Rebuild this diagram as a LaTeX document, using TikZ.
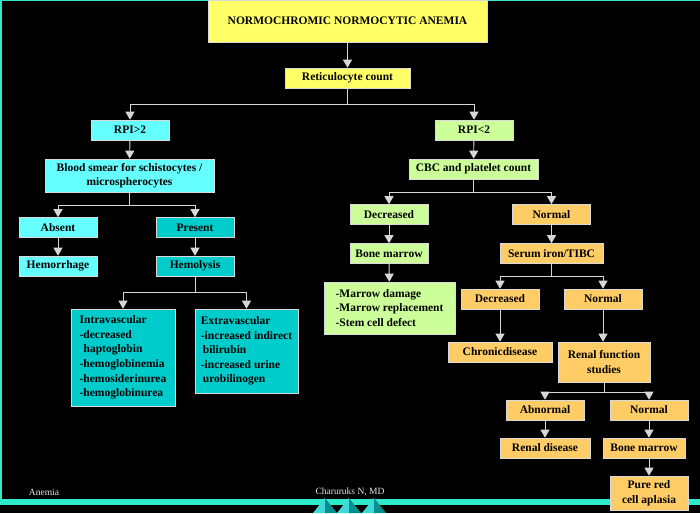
\documentclass[tikz,border=0pt]{standalone}
\usetikzlibrary{arrows.meta}
\usepackage{fontspec}
\setmainfont{Liberation Serif}

\definecolor{titleyellow}{RGB}{255,255,102}
\definecolor{lightcyan}{RGB}{102,255,255}
\definecolor{darkcyan}{RGB}{0,204,204}
\definecolor{lightgreen}{RGB}{204,255,153}
\definecolor{lightorange}{RGB}{255,204,102}
\definecolor{framemint}{RGB}{45,235,200}
\definecolor{linegray}{RGB}{215,215,215}

\begin{document}
\begin{tikzpicture}[x=1pt, y=-1pt,
        box/.style = {draw=white!85!black, line width=0.6pt, inner sep=2pt, align=center,
                      font=\fontsize{11.5}{14.6}\selectfont\bfseries},
        smallbox/.style = {box, minimum width=78pt, minimum height=20pt},
        listbox/.style = {box, align=left},
        arr/.style = {draw=linegray, line width=0.9pt, -{Triangle[width=9pt,length=8pt]}},
        conn/.style = {draw=linegray, line width=0.9pt},
        foot/.style = {text=white!90!black, font=\fontsize{9.5}{10}\selectfont}]
        \fill[black] (0,0) rectangle (700,513);
        \useasboundingbox (0,0) rectangle (700,513);
        % frame
        \fill[framemint] (0,0) rectangle (700,1.5);
        \fill[framemint] (0,0) rectangle (2,505);
        \fill[framemint] (0,499) rectangle (700,505);
        \foreach \px in {325,349,374} {
            \fill[darkcyan!75!white] (\px,498) -- (\px-12,513) -- (\px,513) -- cycle;
            \fill[darkcyan!70!black] (\px,498) -- (\px+12,513) -- (\px,513) -- cycle;
        }
        \node[foot] (footleft) at (44,492) {Anemia};
        \node[foot] (footmid) at (350,492) {Charuruks N, MD};
        % top
        \node[box, fill=titleyellow, minimum width=279pt, minimum height=42pt] (title) at (347.5,21) {NORMOCHROMIC NORMOCYTIC ANEMIA};
        \node[box, fill=titleyellow, minimum width=125pt, minimum height=20pt] (retic) at (347.5,78) {Reticulocyte count};
        % left branch
        \node[smallbox, fill=lightcyan] (rpihigh) at (130,130) {RPI>2};
        \node[box, fill=lightcyan, minimum width=169pt, minimum height=33pt] (smear) at (129.5,175.5) {Blood smear for schistocytes /\\microspherocytes};
        \node[smallbox, fill=lightcyan] (absent) at (58,227.5) {Absent};
        \node[smallbox, fill=darkcyan] (present) at (195,227.5) {Present};
        \node[smallbox, fill=lightcyan] (hemorrhage) at (58,266) {Hemorrhage};
        \node[smallbox, fill=darkcyan] (hemolysis) at (195,266) {Hemolysis};
        \node[listbox, fill=darkcyan, minimum width=104pt, minimum height=97pt] (intra) at (123,357.5)
            {Intravascular\\-decreased\\\hspace*{4pt}haptoglobin\\-hemoglobinemia\\-hemosiderinurea\\-hemoglobinurea};
        \node[listbox, fill=darkcyan, minimum width=103pt, minimum height=84pt] (extra) at (246.5,351)
            {Extravascular\\-increased indirect\\\hspace*{2pt}bilirubin\\-increased urine\\\hspace*{2pt}urobilinogen};
        % right branch
        \node[smallbox, fill=lightgreen] (rpilow) at (474,130) {RPI<2};
        \node[box, fill=lightgreen, minimum width=129pt, minimum height=20pt] (cbc) at (473.5,169) {CBC and platelet count};
        \node[smallbox, fill=lightgreen] (cbcdec) at (389,214.5) {Decreased};
        \node[smallbox, fill=lightorange] (cbcnorm) at (551.5,214.5) {Normal};
        \node[smallbox, fill=lightgreen] (marrowa) at (389,253.5) {Bone marrow};
        \node[listbox, fill=lightgreen, minimum width=131pt, minimum height=52pt] (marrowlist) at (389.5,308)
            {-Marrow damage\\-Marrow replacement\\-Stem cell defect};
        \node[box, fill=lightorange, minimum width=103pt, minimum height=20pt] (iron) at (551.5,253.5) {Serum iron/TIBC};
        \node[smallbox, fill=lightorange] (irondec) at (500,299) {Decreased};
        \node[smallbox, fill=lightorange] (ironnorm) at (603,299) {Normal};
        \node[box, fill=lightorange, minimum width=104pt, minimum height=20pt] (chronic) at (500,352) {Chronicdisease};
        \node[box, fill=lightorange, minimum width=92pt, minimum height=40pt] (renal) at (604,362) {Renal function\\studies};
        \node[smallbox, fill=lightorange] (abnormal) at (545,410) {Abnormal};
        \node[smallbox, fill=lightorange] (renalnorm) at (649,410) {Normal};
        \node[box, fill=lightorange, minimum width=90pt, minimum height=20pt] (renaldis) at (545,448) {Renal disease};
        \node[box, fill=lightorange, minimum width=82pt, minimum height=20pt] (marrowb) at (644,448) {Bone marrow};
        \node[box, fill=lightorange, minimum width=78pt, minimum height=34pt] (aplasia) at (649,493) {Pure red\\cell aplasia};
        % connectors
        \draw[arr] (title) -- (retic);
        \coordinate (splitretic) at (347.5,104);
        \draw[conn] (retic) -- (splitretic);
        \draw[arr] (splitretic) -| (rpihigh);
        \draw[arr] (splitretic) -| (rpilow);
        \draw[arr] (rpihigh) -- (smear);
        \coordinate (splitsmear) at (129.5,205);
        \draw[conn] (smear) -- (splitsmear);
        \draw[arr] (splitsmear) -| (absent);
        \draw[arr] (splitsmear) -| (present);
        \draw[arr] (absent) -- (hemorrhage);
        \draw[arr] (present) -- (hemolysis);
        \coordinate (splithemo) at (195,292);
        \draw[conn] (hemolysis) -- (splithemo);
        \draw[arr] (splithemo) -| (intra.north);
        \draw[arr] (splithemo) -| (extra.north);
        \draw[arr] (rpilow) -- (cbc);
        \coordinate (splitcbc) at (473.5,192);
        \draw[conn] (cbc) -- (splitcbc);
        \draw[arr] (splitcbc) -| (cbcdec);
        \draw[arr] (splitcbc) -| (cbcnorm);
        \draw[arr] (cbcdec) -- (marrowa);
        \draw[arr] (marrowa) -- (marrowlist);
        \draw[arr] (cbcnorm) -- (iron);
        \coordinate (splitiron) at (551.5,276);
        \draw[conn] (iron) -- (splitiron);
        \draw[arr] (splitiron) -| (irondec);
        \draw[arr] (splitiron) -| (ironnorm);
        \draw[arr] (irondec) -- (chronic);
        \draw[arr] (ironnorm) -- (ironnorm |- renal.north);
        \coordinate (splitrenal) at (604,392);
        \draw[conn] (renal) -- (splitrenal);
        \draw[arr] (splitrenal) -| (abnormal);
        \draw[arr] (splitrenal) -| (renalnorm);
        \draw[arr] (abnormal) -- (renaldis);
        \draw[arr] (renalnorm) -- (renalnorm |- marrowb.north);
        \draw[arr] (marrowb.south -| aplasia) -- (aplasia);
    \end{tikzpicture}
\end{document}
